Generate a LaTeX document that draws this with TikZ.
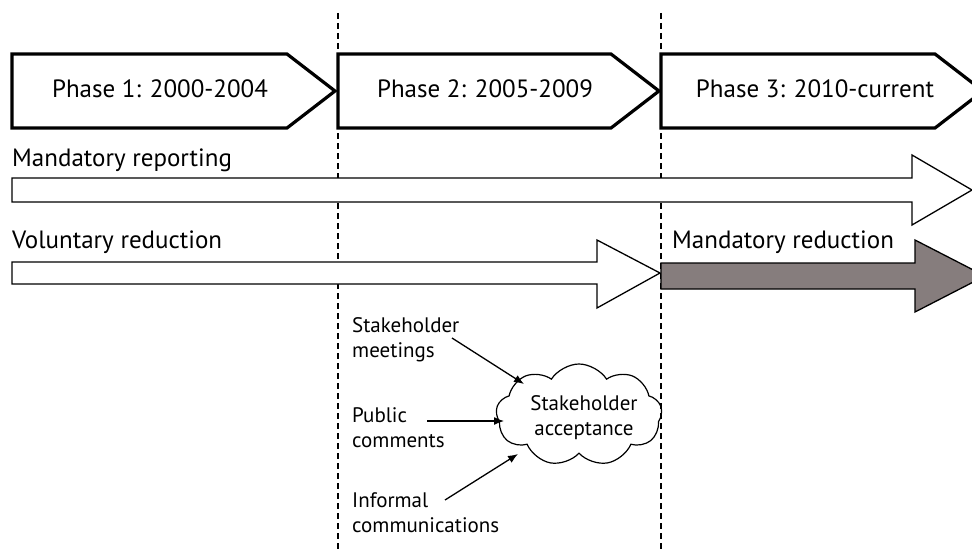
\documentclass[tikz,border=0pt]{standalone}
\usepackage{fontspec}
\setmainfont{PT Sans}
\usetikzlibrary{shapes.symbols,arrows.meta}
\definecolor{mgray}{RGB}{134,125,125}
\tikzset{
  phasebox/.style={draw=black,line width=3.2pt,fill=white,line join=miter},
  vdash/.style={draw=black,line width=2.8pt,dash pattern=on 6pt off 4pt},
  bigarrow/.style={draw=black,line width=1.3pt,fill=white,line join=miter},
  grayarrow/.style={draw=black,line width=1.3pt,fill=mgray,line join=miter},
  bigtxt/.style={font=\fontsize{25}{29}\selectfont,inner sep=0pt},
  smalltxt/.style={font=\fontsize{21}{25}\selectfont,inner sep=0pt,align=left},
  conn/.style={draw=black,line width=1.3pt,-{Latex[length=10pt,width=8pt]}},
}
\begin{document}
\begin{tikzpicture}[x=1pt,y=-1pt]
\useasboundingbox (0,0) rectangle (972,551);
% dashed separators
\draw[vdash] (338,13) -- (338,551);
\draw[vdash] (661,13) -- (661,551);
% phase boxes
\draw[phasebox] (12,54) -- (287,54) -- (335,91) -- (287,128) -- (12,128) -- cycle;
\draw[phasebox] (338,54) -- (611,54) -- (659,91) -- (611,128) -- (338,128) -- cycle;
\draw[phasebox] (661,54) -- (935,54) -- (983,91) -- (935,128) -- (661,128) -- cycle;
\node[bigtxt,anchor=base] (p1) at (160,98) {Phase 1: 2000-2004};
\node[bigtxt,anchor=base] (p2) at (485,98) {Phase 2: 2005-2009};
\node[bigtxt,anchor=base] (p3) at (815,98) {Phase 3: 2010-current};
% mandatory reporting
\node[bigtxt,anchor=base west] (mrep) at (12,166) {Mandatory reporting};
\draw[bigarrow] (12,178) -- (912,178) -- (912,155) -- (972,190) -- (912,225) -- (912,202) -- (12,202) -- cycle;
% voluntary reduction
\node[bigtxt,anchor=base west] (vred) at (12,248) {Voluntary reduction};
\draw[bigarrow] (12,262) -- (597,262) -- (597,240) -- (660,273) -- (597,308) -- (597,284) -- (12,284) -- cycle;
% mandatory reduction
\node[bigtxt,anchor=base west] (mred) at (672,248) {Mandatory reduction};
\draw[grayarrow] (661,263) -- (915,263) -- (915,240) -- (985,276) -- (915,312) -- (915,289) -- (661,289) -- cycle;
% cloud
\node[cloud,draw=black,line width=1.2pt,cloud puffs=9,cloud puff arc=115,aspect=1.7,
      minimum width=166pt,minimum height=102pt,inner sep=0pt] (cl) at (579,415) {};
\node[smalltxt,align=center,anchor=base] (clt) at (584,435) {Stakeholder\\acceptance};
% inputs
\node[smalltxt,anchor=base west] (sm) at (352,357) {Stakeholder\\meetings};
\node[smalltxt,anchor=base west] (pc) at (352,447) {Public\\comments};
\node[smalltxt,anchor=base west] (ic) at (352,532) {Informal\\communications};
\coordinate (smo) at (452,338);
\coordinate (smi) at (524,384);
\coordinate (pco) at (427,421);
\coordinate (pci) at (504,421);
\coordinate (ico) at (445,500);
\coordinate (ici) at (518,454);
\draw[conn] (smo) -- (smi);
\draw[conn] (pco) -- (pci);
\draw[conn] (ico) -- (ici);
\end{tikzpicture}
\end{document}
